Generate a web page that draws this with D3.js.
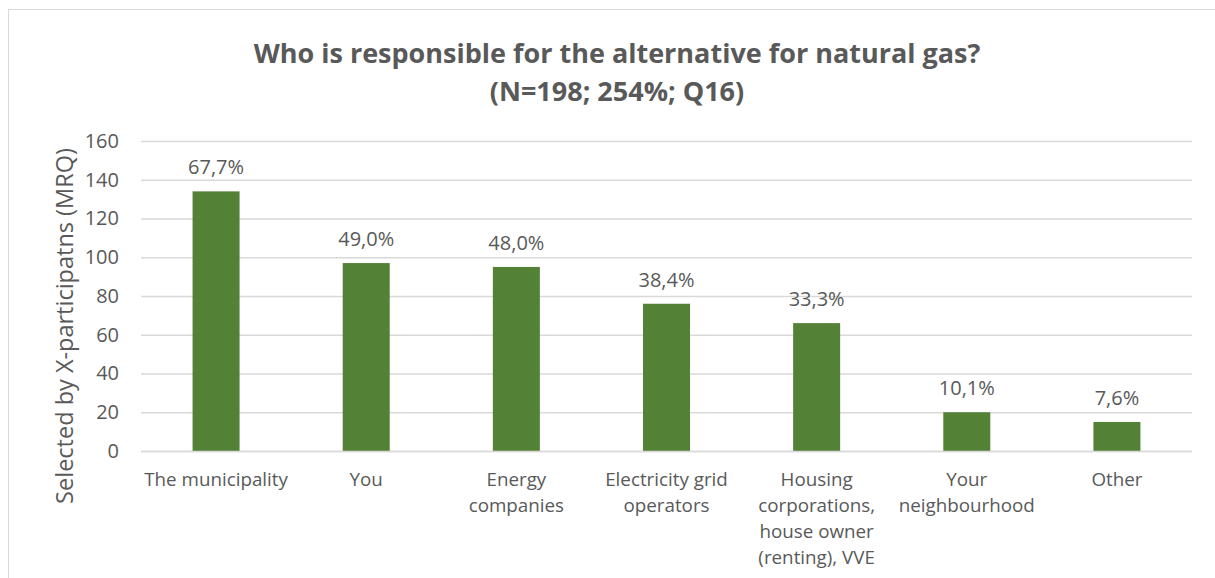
<!DOCTYPE html>
<html><head><meta charset="utf-8">
<script src="https://cdn.jsdelivr.net/npm/d3@7/dist/d3.min.js"></script>
<style>
html,body{margin:0;padding:0;background:#fff;}
svg{display:block;font-family:"Open Sans",sans-serif;}
</style></head>
<body><svg id="c" width="1215" height="578"></svg>
<script>
const categories = ["The municipality","You","Energy companies","Electricity grid operators","Housing corporations, house owner (renting), VVE","Your neighbourhood","Other"];
const categoryLines = [["The municipality"],["You"],["Energy","companies"],["Electricity grid","operators"],["Housing","corporations,","house owner","(renting), VVE"],["Your","neighbourhood"],["Other"]];
const counts = [134, 97, 95, 76, 66, 20, 15];
const percentLabels = ["67,7%","49,0%","48,0%","38,4%","33,3%","10,1%","7,6%"];
const yTicks = [0,20,40,60,80,100,120,140,160];
const titleLines = ["Who is responsible for the alternative for natural gas?","(N=198; 254%; Q16)"];
const yTitle = "Selected by X-participatns (MRQ)";

const svg = d3.select("#c");
const grey = "#595959";
svg.append("rect").attr("x",8.5).attr("y",9.5).attr("width",1230).attr("height",600)
  .attr("fill","#fff").attr("stroke","#d9d9d9").attr("stroke-width",1);

const m = {left:141, right:1192, top:141, bottom:451};
const x = d3.scaleBand().domain(categories).range([m.left,m.right]).paddingInner(0.687).paddingOuter(0.3435);
const y = d3.scaleLinear().domain([0,160]).range([m.bottom,m.top]);

svg.append("g").selectAll("line").data(yTicks).join("line")
  .attr("x1",m.left).attr("x2",m.right)
  .attr("y1",d=>y(d)+0.5).attr("y2",d=>y(d)+0.5)
  .attr("stroke","#d9d9d9").attr("stroke-width",1.3);

const yAxis = svg.append("g").attr("transform",`translate(${m.left},0)`)
  .call(d3.axisLeft(y).tickValues(yTicks).tickSize(0).tickPadding(22));
yAxis.select(".domain").remove();
yAxis.selectAll("text").attr("font-size",20).attr("fill",grey).attr("font-family","'Open Sans',sans-serif");

svg.append("g").selectAll("rect").data(counts).join("rect")
  .attr("x",(d,i)=>x(categories[i])).attr("width",x.bandwidth())
  .attr("y",d=>y(d)).attr("height",d=>y(0)-y(d))
  .attr("fill","#538135");

svg.append("line").attr("x1",m.left).attr("x2",m.right).attr("y1",y(0)+0.5).attr("y2",y(0)+0.5)
  .attr("stroke","#d9d9d9").attr("stroke-width",1.3);

svg.append("g").selectAll("text").data(counts).join("text")
  .attr("x",(d,i)=>x(categories[i])+x.bandwidth()/2)
  .attr("y",d=>y(d)-17)
  .attr("text-anchor","middle").attr("font-size",20).attr("fill",grey)
  .text((d,i)=>percentLabels[i]);

const cl = svg.append("g");
categories.forEach((c,i)=>{
  const t = cl.append("text").attr("text-anchor","middle").attr("font-size",18.8).attr("fill",grey)
    .attr("x",x(c)+x.bandwidth()/2).attr("y",y(0)+35);
  categoryLines[i].forEach((ln,j)=>{
    t.append("tspan").attr("x",x(c)+x.bandwidth()/2).attr("dy",j===0?0:26).text(ln);
  });
});

svg.append("text").attr("transform",`translate(73,326) rotate(-90)`)
  .attr("text-anchor","middle").attr("font-size",23.5).attr("fill",grey).text(yTitle);

svg.append("g").selectAll("text").data(titleLines).join("text")
  .attr("x",617).attr("y",(d,i)=>63+i*38)
  .attr("text-anchor","middle").attr("font-size",27).attr("font-weight","bold").attr("fill",grey)
  .text(d=>d);
</script></body></html>
